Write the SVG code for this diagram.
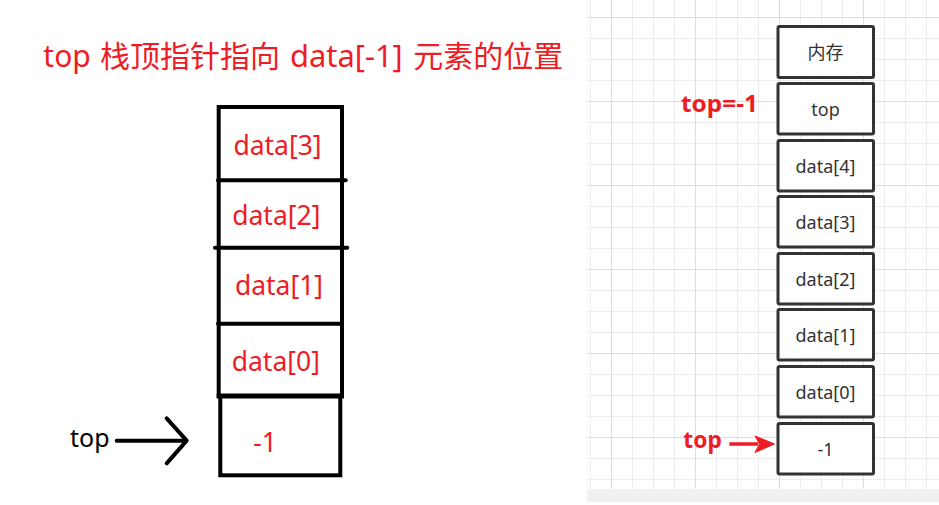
<svg xmlns="http://www.w3.org/2000/svg" width="939" height="505" viewBox="0 0 939 505">
<style>
.title{font-family:"Noto Sans","Noto Sans CJK SC",sans-serif;font-size:30px;fill:#ee1c25}
.lbl{font-family:"Noto Sans","Noto Sans CJK SC",sans-serif;font-size:26.5px;fill:#ee1c25;text-anchor:middle}
.lbox{fill:none;stroke:#000;stroke-width:4}
.lsep{stroke:#000;stroke-width:4;stroke-linecap:round}
.rbox{fill:#fff;stroke:#333;stroke-width:3}
.rtxt{font-family:"Noto Sans","Noto Sans CJK SC",sans-serif;font-size:18px;fill:#333;text-anchor:middle}
.rred{font-family:"Noto Sans","Noto Sans CJK SC",sans-serif;font-weight:bold;fill:#ee1c25}
.gmin{stroke:#ececec;stroke-width:1;fill:none}
.gmaj{stroke:#dedede;stroke-width:1;fill:none}
</style>
<rect x="0" y="0" width="939" height="505" fill="#fff"/>

<!-- Left panel -->
<g id="title">
<text class="title" y="67"><tspan x="43.3">top</tspan><tspan x="100">栈顶指针指向</tspan><tspan x="290" textLength="112.7" lengthAdjust="spacingAndGlyphs">data[-1]</tspan><tspan x="413.3">元素的位置</tspan></text>
</g>

<g id="left-stack">
<rect class="lbox" x="218.7" y="107" width="123.3" height="289"/>
<rect class="lbox" x="220.3" y="396" width="120" height="79.3"/>
<line class="lsep" x1="218" y1="180.3" x2="345.7" y2="180.3"/>
<line class="lsep" x1="215" y1="247.7" x2="347.3" y2="247.7"/>
<line class="lsep" x1="218" y1="323.7" x2="342" y2="323.7"/>
<line x1="216.7" y1="396" x2="344" y2="396" stroke="#000" stroke-width="5"/>
</g>
<g id="l-data3"><text class="lbl" x="277.5" y="155">data[3]</text></g>
<g id="l-data2"><text class="lbl" x="276.3" y="225">data[2]</text></g>
<g id="l-data1"><text class="lbl" x="279" y="295">data[1]</text></g>
<g id="l-data0"><text class="lbl" x="275.8" y="370.7">data[0]</text></g>
<g id="l-minus1"><text class="lbl" x="265" y="451.7">-1</text></g>
<g id="l-top"><text x="70" y="446.7" font-family="Noto Sans, sans-serif" font-size="25" fill="#000">top</text></g>

<!-- Right panel background grid -->
<g id="grid">
<path class="gmin" d="M590.5,0V489M611.5,0V489M632.5,0V489M653.5,0V489M674.5,0V489M695.5,0V489M716.5,0V489M737.5,0V489M758.5,0V489M779.5,0V489M800.5,0V489M821.5,0V489M842.5,0V489M863.5,0V489M884.5,0V489M905.5,0V489M926.5,0V489
M587,17.5H939M587,38.5H939M587,59.5H939M587,80.5H939M587,101.5H939M587,122.5H939M587,143.5H939M587,164.5H939M587,185.5H939M587,206.5H939M587,227.5H939M587,248.5H939M587,269.5H939M587,290.5H939M587,311.5H939M587,332.5H939M587,353.5H939M587,374.5H939M587,395.5H939M587,416.5H939M587,437.5H939M587,458.5H939M587,479.5H939"/>
<path class="gmaj" d="M611.5,0V489M695.5,0V489M779.5,0V489M863.5,0V489M587,17.5H939M587,101.5H939M587,185.5H939M587,269.5H939M587,353.5H939M587,437.5H939"/>
<rect x="587" y="489" width="352" height="13" fill="#f0f0f0"/>
</g>

<!-- Right panel nodes -->
<g id="r-mem"><rect class="rbox" x="778" y="26.5" width="95.5" height="51" rx="1.5"/><text class="rtxt" x="825.5" y="59" font-size="17" font-family="Noto Sans CJK SC, sans-serif">内存</text></g>
<g id="r-top"><rect class="rbox" x="778" y="83.5" width="95.5" height="50.5" rx="1.5"/><text class="rtxt" x="825.5" y="116">top</text></g>
<g id="r-data4"><rect class="rbox" x="778" y="140.5" width="95.5" height="50.5" rx="1.5"/><text class="rtxt" x="825.5" y="173">data[4]</text></g>
<g id="r-data3"><rect class="rbox" x="778" y="196.5" width="95.5" height="50.5" rx="1.5"/><text class="rtxt" x="825.5" y="229">data[3]</text></g>
<g id="r-data2"><rect class="rbox" x="778" y="253.5" width="95.5" height="50.5" rx="1.5"/><text class="rtxt" x="825.5" y="286">data[2]</text></g>
<g id="r-data1"><rect class="rbox" x="778" y="309.5" width="95.5" height="50.5" rx="1.5"/><text class="rtxt" x="825.5" y="342">data[1]</text></g>
<g id="r-data0"><rect class="rbox" x="778" y="366.5" width="95.5" height="50.5" rx="1.5"/><text class="rtxt" x="825.5" y="399">data[0]</text></g>
<g id="r-minus1"><rect class="rbox" x="778" y="423.5" width="95.5" height="50.5" rx="1.5"/><text class="rtxt" x="825.5" y="455.5">-1</text></g>

<g id="r-topeq"><text class="rred" x="681" y="111.7" font-size="24" textLength="77" lengthAdjust="spacingAndGlyphs">top=-1</text></g>
<g id="r-toplabel"><text class="rred" x="683.3" y="448.3" font-size="23" textLength="38.5" lengthAdjust="spacingAndGlyphs">top</text></g>

<!-- Connectors -->
<g id="connectors">
<line x1="116.7" y1="440.7" x2="185" y2="440.7" stroke="#000" stroke-width="4" stroke-linecap="round"/>
<path d="M166.7,418.3L186.7,440.7L166.7,463.3" fill="none" stroke="#000" stroke-width="4" stroke-linecap="round" stroke-linejoin="round"/>
<line x1="729.3" y1="444" x2="758" y2="444" stroke="#ee1c25" stroke-width="3.5"/>
<path d="M774.5,444L755,436L759.5,444L755,452.5Z" fill="#ee1c25" stroke="#ee1c25" stroke-width="1" stroke-linejoin="miter"/>
</g>
</svg>
